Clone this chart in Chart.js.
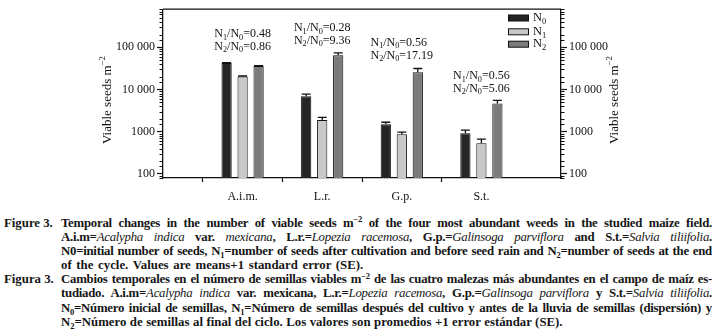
<!DOCTYPE html>
<html><head><meta charset="utf-8">
<script src="https://cdn.jsdelivr.net/npm/chart.js@4/dist/chart.umd.min.js"></script>
<style>
html,body{margin:0;padding:0;background:#fff;}
body{width:722px;height:335px;position:relative;overflow:hidden;}
#c{position:absolute;left:0;top:0;}
#cap{position:absolute;left:0;top:215.5px;width:722px;font-family:"Liberation Serif","Times New Roman",serif;font-weight:bold;font-size:12.8px;line-height:14.2px;color:#161616;}
.p{position:relative;padding-left:61px;width:651px;}
.lab{position:absolute;left:4px;top:0;}
.l{display:block;height:14.2px;white-space:nowrap;}
.j{text-align:justify;text-align-last:justify;white-space:normal;letter-spacing:-0.25px;}
.w{word-spacing:1.5px;}
.w2{word-spacing:0.3px;}
i{font-weight:normal;}
sup{font-size:8.5px;line-height:0;vertical-align:0;position:relative;top:-4.5px;}
sub{font-size:8.5px;line-height:0;vertical-align:0;position:relative;top:3px;}
</style></head>
<body>
<canvas id="c" width="722" height="205"></canvas>
<div id="cap">
<div class="p"><span class="lab">Figure 3.</span>
<span class="l j">Temporal changes in the number of viable seeds m<sup>−2</sup> of the four most abundant weeds in the studied maize field.</span>
<span class="l j">A.i.m=<i>Acalypha indica</i> var. <i>mexicana</i>, L.r.=<i>Lopezia racemosa</i>, G.p.=<i>Galinsoga parviflora</i> and S.t.=<i>Salvia tiliifolia</i>.</span>
<span class="l j">N0=initial number of seeds, N<sub>1</sub>=number of seeds after cultivation and before seed rain and N<sub>2</sub>=number of seeds at the end</span>
<span class="l w">of the cycle. Values are means+1 standard error (SE).</span>
</div>
<div class="p"><span class="lab">Figura 3.</span>
<span class="l j">Cambios temporales en el número de semillas viables m<sup>−2</sup> de las cuatro malezas más abundantes en el campo de maíz es-</span>
<span class="l j">tudiado. A.i.m=<i>Acalypha indica</i> var. mexicana, L.r.=<i>Lopezia racemosa</i>, G.p.=<i>Galinsoga parviflora</i> y S.t.=<i>Salvia tiliifolia</i>.</span>
<span class="l j">N<sub>0</sub>=Número inicial de semillas, N<sub>1</sub>=Número de semillas después del cultivo y antes de la lluvia de semillas (dispersión) y</span>
<span class="l w2">N<sub>2</sub>=Número de semillas al final del ciclo. Los valores son promedios +1 error estándar (SE).</span>
</div>
</div>
<script>
// ---- data ----
const categories = ['A.i.m.', 'L.r.', 'G.p.', 'S.t.'];
const seriesIndex = ['0', '1', '2']; // N0, N1, N2
const n0 = [42300, 6950, 1500, 922];
const n1 = [20400, 1900, 873, 536];
const n2 = [36000, 64500, 25500, 4690];
const n0SE = [1000, 800, 175, 165];
const n1SE = [500, 290, 100, 130];
const n2SE = [900, 9700, 6000, 820];
const ratioN1N0 = ['0.48', '0.28', '0.56', '0.56'];
const ratioN2N0 = ['0.86', '9.36', '17.19', '5.06'];
const yTickLabels = {100: '100', 1000: '1000', 10000: '10 000', 100000: '100 000'};
const yMin = 80, yMax = 800000;

// ---- build ----
const xLabels = ['', ...categories, ''];
const series = [n0, n1, n2];
const seriesSE = [n0SE, n1SE, n2SE];
const fills = ['#252525', '#c8c8c8', '#7b7b7b'];
const INK = '#111';
const FONT = '"Liberation Serif","Times New Roman",serif';

function richWidth(ctx, parts, size) {
  let w = 0;
  for (const p of parts) {
    const s = (p.sub || p.sup) ? size * 0.68 : size;
    ctx.font = s + 'px ' + FONT;
    w += ctx.measureText(p.t).width;
  }
  return w;
}
function drawRich(ctx, parts, x, y, size) {
  let cx = x;
  ctx.textBaseline = 'middle';
  ctx.textAlign = 'left';
  for (const p of parts) {
    const s = (p.sub || p.sup) ? size * 0.68 : size;
    ctx.font = s + 'px ' + FONT;
    const dy = p.sub ? size * 0.28 : (p.sup ? -size * 0.38 : 0);
    ctx.fillText(p.t, cx, y + dy);
    cx += ctx.measureText(p.t).width;
  }
}

const decorPlugin = {
  id: 'decor',
  afterDatasetsDraw(chart) {
    const ctx = chart.ctx;
    const xs = chart.scales.x, ys = chart.scales.y, ys2 = chart.scales.y2;
    const area = chart.chartArea;
    ctx.save();
    // error bars
    ctx.strokeStyle = INK; ctx.lineWidth = 1.3;
    series.forEach((d, i) => {
      const meta = chart.getDatasetMeta(i);
      d.forEach((v, j) => {
        const el = meta.data[j + 1];
        const yt = ys.getPixelForValue(v + seriesSE[i][j]);
        ctx.beginPath();
        ctx.moveTo(el.x, el.y); ctx.lineTo(el.x, yt);
        ctx.moveTo(el.x - 4.5, yt); ctx.lineTo(el.x + 4.5, yt);
        ctx.stroke();
      });
    });
    // frame top
    ctx.lineWidth = 1.3;
    ctx.beginPath();
    ctx.moveTo(area.left, area.top); ctx.lineTo(area.right, area.top);
    ctx.stroke();
    // minor ticks
    ctx.lineWidth = 1;
    for (const sc of [ys, ys2]) {
      sc.ticks.forEach(t => {
        if (yTickLabels[t.value]) return;
        const py = Math.round(sc.getPixelForValue(t.value)) + 0.5;
        ctx.beginPath();
        if (sc.position === 'left') { ctx.moveTo(area.left - 3.5, py); ctx.lineTo(area.left, py); }
        else { ctx.moveTo(area.right, py); ctx.lineTo(area.right + 3.5, py); }
        ctx.stroke();
      });
    }
    ctx.fillStyle = INK;
    // ratio annotations
    const line2Y = [46.7, 40.7, 55.5, 88.7];
    categories.forEach((c, k) => {
      const cx = xs.getPixelForValue(k + 1);
      const l1 = [{t: 'N'}, {t: '1', sub: true}, {t: '/N'}, {t: '0', sub: true}, {t: '=' + ratioN1N0[k]}];
      const l2 = [{t: 'N'}, {t: '2', sub: true}, {t: '/N'}, {t: '0', sub: true}, {t: '=' + ratioN2N0[k]}];
      const w = Math.max(richWidth(ctx, l1, 12), richWidth(ctx, l2, 12));
      const x0 = cx - w / 2;
      drawRich(ctx, l1, x0, line2Y[k] - 12.7, 12);
      drawRich(ctx, l2, x0, line2Y[k], 12);
    });
    // legend
    const legY = [18, 31.8, 44.2];
    seriesIndex.forEach((s, i) => {
      ctx.fillStyle = fills[i];
      ctx.fillRect(508, legY[i] - 3, 20, 6);
      ctx.strokeStyle = INK; ctx.lineWidth = 1;
      ctx.strokeRect(508.5, legY[i] - 3, 20, 6);
      ctx.fillStyle = INK;
      drawRich(ctx, [{t: 'N'}, {t: s, sub: true}], 533, legY[i], 12.5);
    });
    // axis titles
    const title = [{t: 'Viable seeds m'}, {t: '−2', sup: true}];
    const tw = richWidth(ctx, title, 13);
    for (const tx of [108, 615]) {
      ctx.save();
      ctx.translate(tx, 100);
      ctx.rotate(-Math.PI / 2);
      drawRich(ctx, title, -tw / 2, 0, 13);
      ctx.restore();
    }
    ctx.restore();
  }
};

const yAxis = (pos, w) => ({
  type: 'logarithmic', position: pos, min: yMin, max: yMax,
  grid: {drawOnChartArea: false, drawTicks: true, tickLength: 6, tickWidth: 1.2,
    tickColor: ctx => (ctx.tick && yTickLabels[ctx.tick.value]) ? INK : 'rgba(0,0,0,0)'},
  border: {display: true, color: INK, width: 1.3},
  ticks: {autoSkip: false, color: INK, padding: 2, font: {family: FONT, size: 12},
    callback: v => yTickLabels[v] || ''},
  afterFit: s => { s.width = w; }
});

new Chart(document.getElementById('c'), {
  type: 'bar',
  data: {
    labels: xLabels,
    datasets: series.map((d, i) => ({
      label: 'N' + seriesIndex[i],
      data: [null, ...d, null],
      backgroundColor: fills[i],
      borderColor: INK,
      borderWidth: 1,
      categoryPercentage: 0.603,
      barPercentage: 0.64,
      yAxisID: 'y'
    }))
  },
  options: {
    responsive: false, animation: false, devicePixelRatio: 1,
    layout: {padding: {top: 8, left: 0, right: 0, bottom: 0}},
    plugins: {legend: {display: false}, tooltip: {enabled: false}},
    scales: {
      x: {
        type: 'category', offset: false,
        grid: {drawOnChartArea: false, drawTicks: true, tickLength: 4, tickWidth: 1.2,
          tickColor: ctx => (ctx.index === 0 || ctx.index === xLabels.length - 1) ? 'rgba(0,0,0,0)' : INK},
        border: {display: true, color: INK, width: 1.3},
        ticks: {autoSkip: false, maxRotation: 0, color: INK, padding: 8, font: {family: FONT, size: 12}},
        afterFit: s => { s.height = 27; }
      },
      y: yAxis('left', 163),
      y2: yAxis('right', 161)
    }
  },
  plugins: [decorPlugin]
});
</script>
</body></html>
